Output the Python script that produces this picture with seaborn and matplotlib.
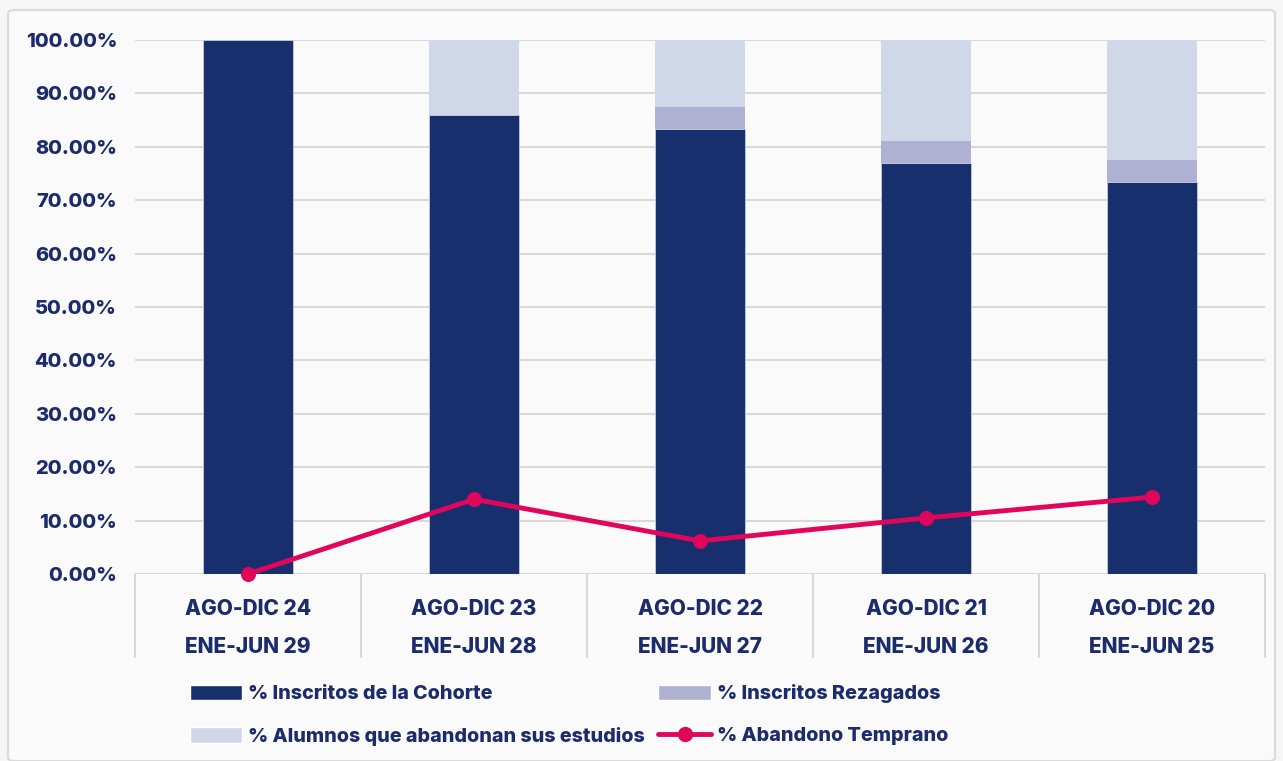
import matplotlib
matplotlib.use("Agg")
import matplotlib.pyplot as plt
import matplotlib.transforms as mtransforms
from matplotlib.patches import Patch, FancyBboxPatch
from matplotlib.lines import Line2D
import seaborn as sns

# datos
periodos = ["AGO-DIC 24\nENE-JUN 29", "AGO-DIC 23\nENE-JUN 28", "AGO-DIC 22\nENE-JUN 27",
            "AGO-DIC 21\nENE-JUN 26", "AGO-DIC 20\nENE-JUN 25"]
inscritos_cohorte = [100.0, 86.0, 83.3, 77.0, 73.4]
inscritos_rezagados = [0.0, 0.0, 4.1, 4.1, 4.1]
abandonan = [0.0, 14.0, 12.6, 18.9, 22.5]
abandono_temprano = [0.0, 14.0, 6.2, 10.5, 14.4]

azul = "#182F6E"
lila = "#AEB1D2"
celeste = "#CFD7E9"
rosa = "#E0065C"
texto = "#1B2B6B"
gris = "#D9D9D9"
peso = 800

sns.set_style("white")
plt.rcParams['font.family'] = ['Inter', 'DejaVu Sans']
plt.rcParams['font.weight'] = peso

fig = plt.figure(figsize=(12.83, 7.61), dpi=100)
fig.patch.set_facecolor("#F6F6F7")
marco = FancyBboxPatch((8 / 1283, 0.0), 1 - 16 / 1283, 1 - 10 / 761,
                       boxstyle="round,pad=0,rounding_size=0.005",
                       transform=fig.transFigure, facecolor="#FAFAFA",
                       edgecolor="#DADADA", linewidth=1.5, zorder=-5)
fig.patches.append(marco)
ax = fig.add_axes([135 / 1283, 1 - 574 / 761, 1130 / 1283, 534 / 761])
ax.set_facecolor("none")
ax.set_zorder(2)

base2 = [a + b for a, b in zip(inscritos_cohorte, inscritos_rezagados)]
sns.barplot(x=periodos, y=inscritos_cohorte, color=azul, width=0.4, saturation=1, ax=ax,
            zorder=2, edgecolor="#C9CCDD", linewidth=0.6)
sns.barplot(x=periodos, y=inscritos_rezagados, bottom=inscritos_cohorte, color=lila, width=0.4,
            saturation=1, ax=ax, zorder=2, linewidth=0)
sns.barplot(x=periodos, y=abandonan, bottom=base2, color=celeste, width=0.4, saturation=1,
            ax=ax, zorder=2, linewidth=0)
sns.lineplot(x=periodos, y=abandono_temprano, sort=False, color=rosa, linewidth=3.5, marker="o",
             markersize=10, markeredgecolor=rosa, ax=ax, zorder=4, clip_on=False)

ax.set_ylim(0, 100)
ax.set_xlim(-0.5, 4.5)
ax.set_yticks(range(0, 101, 10))
ax.set_yticklabels([f"{v:.2f}%" for v in range(0, 101, 10)])
ax.grid(axis="y", color=gris, linewidth=1.5, zorder=0)
ax.set_axisbelow(True)
for s in ax.spines.values():
    s.set_visible(False)
ax.tick_params(axis="y", length=0, pad=13, labelsize=14.4, labelcolor=texto)
ax.tick_params(axis="x", length=0, pad=18, labelsize=15, labelcolor=texto)
for lab in ax.get_xticklabels():
    lab.set_linespacing(2.1)
    lab.set_fontweight(peso)
for lab in ax.get_yticklabels():
    lab.set_fontweight(peso)
ax.set_xlabel("")
ax.set_ylabel("")

# separadores de categorias bajo el eje
trans = mtransforms.blended_transform_factory(ax.transData, ax.transAxes)
ax.axhline(0, color=gris, linewidth=2, zorder=1)
for i in range(len(periodos) + 1):
    ax.plot([i - 0.5, i - 0.5], [0, -83 / 534], transform=trans, color=gris, linewidth=1.5,
            clip_on=False, zorder=1)

handles = [Patch(facecolor=azul, label="% Inscritos de la Cohorte"),
           Patch(facecolor=celeste, label="% Alumnos que abandonan sus estudios"),
           Patch(facecolor=lila, label="% Inscritos Rezagados"),
           Line2D([0], [0], color=rosa, linewidth=3.5, marker="o", markersize=10,
                  label="% Abandono Temprano")]
leg = fig.legend(handles=handles, ncol=2, loc="center left", bbox_to_anchor=(172 / 1283, 1 - 715 / 761),
                 frameon=False, fontsize=14.2, handlelength=2.65, handleheight=0.8, handletextpad=0.3,
                 columnspacing=0.7, labelspacing=1.2)
for t in leg.get_texts():
    t.set_color(texto)
    t.set_fontweight(peso)

fig.savefig("out.png", dpi=100, facecolor=fig.get_facecolor())
